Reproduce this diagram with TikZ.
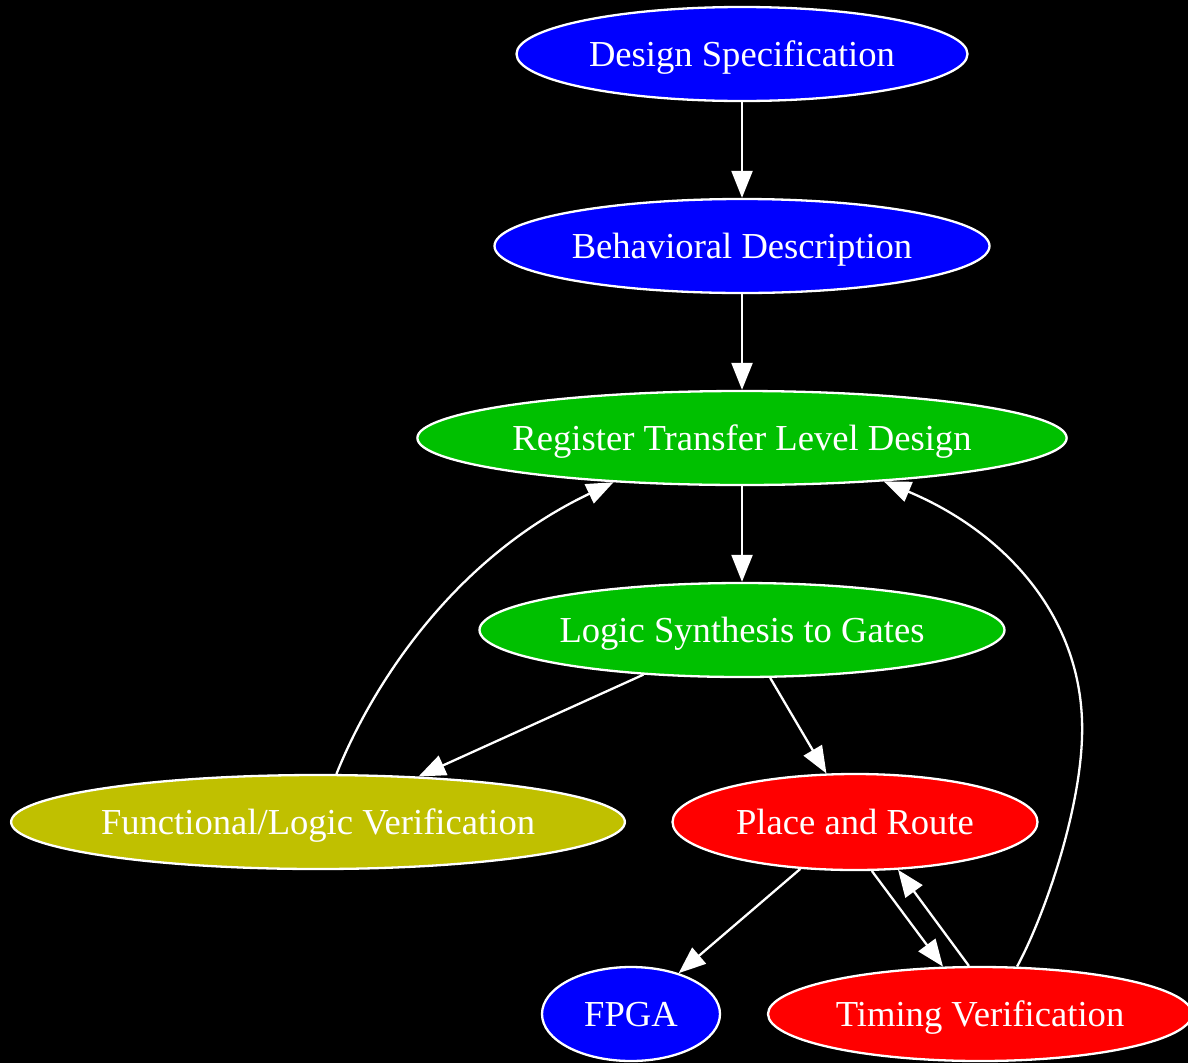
\documentclass[tikz,border=0pt]{standalone}
\usepackage{fontspec}
\setmainfont{Liberation Serif}
\usetikzlibrary{shapes.geometric,arrows.meta}
\definecolor{nblue}{RGB}{0,0,255}
\definecolor{ngreen}{RGB}{0,192,0}
\definecolor{nolive}{RGB}{192,192,0}
\definecolor{nred}{RGB}{255,0,0}
\begin{document}
\begin{tikzpicture}[x=1pt,y=-1pt,
  stagenode/.style={ellipse, draw=white, line width=2.3pt, text=white, inner sep=0pt,
    text height=30pt, text depth=6pt,
    font=\fontsize{36.6}{40}\selectfont},
  edge/.style={draw=white, line width=2.3pt, -{Triangle[length=27pt,width=21pt]}}]
\fill[black] (0,0) rectangle (1188,1063);
\useasboundingbox (0,0) rectangle (1188,1063);
\begin{scope}
\clip (0,0) rectangle (1188,1063);
\node[stagenode, fill=nblue, minimum width=451pt, minimum height=94pt] (ds) at (742,54) {Design Specification};
\node[stagenode, fill=nblue, minimum width=495pt, minimum height=94pt] (bd) at (742,246) {Behavioral Description};
\node[stagenode, fill=ngreen, minimum width=649pt, minimum height=94pt] (rtl) at (742,438) {Register Transfer Level Design};
\node[stagenode, fill=ngreen, minimum width=525pt, minimum height=94pt] (lsg) at (742,630) {Logic Synthesis to Gates};
\node[stagenode, fill=nolive, minimum width=610pt, minimum height=94pt] (flv) at (318,822) {Functional/Logic Verification};
\node[stagenode, fill=nred, minimum width=365pt, minimum height=96pt] (pr) at (855,822) {Place and Route};
\node[stagenode, fill=nblue, minimum width=178pt, minimum height=94pt] (fpga) at (631,1014) {FPGA};
\node[stagenode, fill=nred, minimum width=424pt, minimum height=94pt] (tv) at (980,1014) {Timing Verification};

\draw[edge] (ds) -- (bd);
\draw[edge] (bd) -- (rtl);
\draw[edge] (rtl) -- (lsg);
\draw[edge] (lsg) -- (flv);
\draw[edge] (lsg) -- (pr);
\draw[edge] (flv.69) .. controls (370,690) and (450,560) .. (rtl.199.5);
\draw[edge] (pr) -- (fpga);
\draw[edge] (pr.-71) -- (tv.128);
\draw[edge] (tv.103) -- (pr.-48);
\draw[edge] (tv.52) .. controls (1045,915) and (1085,800) .. (1082,720)
  .. controls (1078,610) and (1000,530) .. (rtl.343);
\end{scope}
\end{tikzpicture}
\end{document}
